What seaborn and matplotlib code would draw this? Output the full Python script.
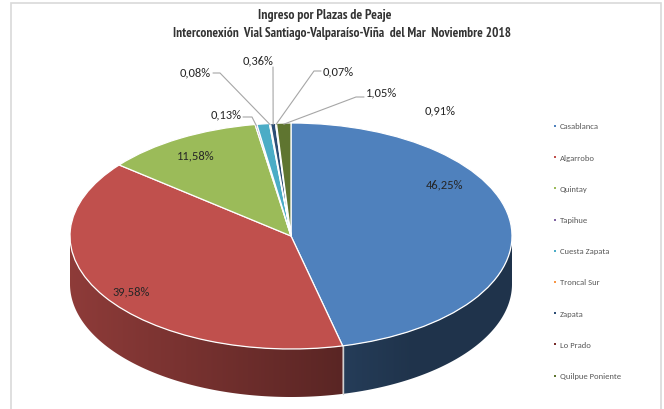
import numpy as np
import matplotlib
matplotlib.use('Agg')
import matplotlib.pyplot as plt
from matplotlib import font_manager
from matplotlib.patches import Rectangle, Polygon
import seaborn as sns

# --- data ---
title_lines = ['Ingreso por Plazas de Peaje',
               'Interconexión  Vial Santiago-Valparaíso-Viña  del Mar  Noviembre 2018']
plazas = ['Casablanca', 'Algarrobo', 'Quintay', 'Tapihue', 'Cuesta Zapata',
          'Troncal Sur', 'Zapata', 'Lo Prado', 'Quilpue Poniente']
shares = [46.25, 39.58, 11.58, 0.13, 0.91, 0.08, 0.36, 0.07, 1.05]
slice_colors = ['#4F81BD', '#C0504D', '#9BBB59', '#8064A2', '#4BACC6',
                '#F79646', '#2C4D75', '#772C2A', '#5F7530']

# label positions (pixels) and leader elbows, in the same order as plazas
label_xy = [(445, 185), (131, 292), (196, 156), (226, 115), (440, 111),
            (195, 73), (258, 61), (338, 72), (382, 93)]
leaders = {3: [(243, 118), (252, 118)],
           5: [(213, 74), (220, 74)],
           6: [(273, 68)],
           7: [(321, 72), (314, 72)],
           8: [(364, 98), (356, 98)]}


def first_font(candidates):
    have = {f.name for f in font_manager.fontManager.ttflist}
    for c in candidates:
        if c in have:
            return c
    return 'DejaVu Sans'


sns.set_theme(style='white')
palette = sns.color_palette(slice_colors)
body_font = first_font(['Carlito', 'Lato'])
plt.rcParams['font.family'] = [body_font, 'DejaVu Sans']
title_font = [first_font(['Liberation Sans Narrow', 'Arial Narrow', 'PT Sans Narrow',
                          'Roboto Condensed', 'Archivo Narrow']), 'DejaVu Sans']

# pie geometry in pixels: centre, radii, thickness of the 3D side
CX, CY, RX, RY = 291, 237, 221, 113
DEPTH = 48 / RY


def px(x, y):
    # pixel position -> data coordinates of the pie axes
    return (x - CX) / RX, (CY - y) / RY


def side_shade(x):
    # lighting of the side wall: lighter on the left, darker on the right
    return np.maximum(0.40, 0.74 - 0.22 * (x + 1))


fig = plt.figure(figsize=(6.64, 4.10), dpi=100)
ax = fig.add_axes([0, 0, 1, 1])

# top face of the pie
wedges, _ = ax.pie(shares, colors=palette, startangle=90, counterclock=False,
                   radius=1, center=(0, 0),
                   wedgeprops=dict(edgecolor='white', linewidth=0.9, zorder=3))

# slice boundaries in degrees (math convention)
frac = np.cumsum([0] + shares) / sum(shares)
theta = 90 - 360 * frac

# side wall for the front half: gradient image clipped to each slice's band
for i, col in enumerate(palette):
    hi = min(theta[i], 0)
    lo = max(theta[i + 1], -180)
    if hi <= lo:
        continue
    ang = np.radians(np.linspace(lo, hi, 200))
    top = np.column_stack([np.cos(ang), np.sin(ang)])
    bot = np.column_stack([np.cos(ang), np.sin(ang) - DEPTH])[::-1]
    band = Polygon(np.vstack([top, bot]), closed=True, fc='none', ec='none')
    ax.add_patch(band)
    x0, x1 = top[:, 0].min(), top[:, 0].max()
    y0, y1 = bot[:, 1].min(), top[:, 1].max()
    xs = np.linspace(x0, x1, 300)
    img = np.array(col)[None, None, :] * side_shade(xs)[None, :, None]
    im = ax.imshow(img, extent=(x0, x1, y0, y1), aspect='auto',
                   interpolation='bilinear', zorder=1, origin='lower')
    im.set_clip_path(band)

# light seam on the side between the first two slices
rb = np.radians(theta[1])
ax.plot([np.cos(rb), np.cos(rb)], [np.sin(rb), np.sin(rb) - DEPTH],
        color='#D0D0D0', lw=1.0, zorder=2)

# data labels
for i, v in enumerate(shares):
    txt = f'{v:.2f}%'.replace('.', ',')
    ax.text(*px(*label_xy[i]), txt, ha='center', va='center',
            fontsize=9, color='#262626', zorder=5)

# leader lines to the small slices
for i, pts in leaders.items():
    mid = np.radians((theta[i] + theta[i + 1]) / 2)
    xs = [px(*p)[0] for p in pts] + [np.cos(mid) * 0.99]
    ys = [px(*p)[1] for p in pts] + [np.sin(mid) * 0.99]
    ax.plot(xs, ys, color='#A6A6A6', lw=0.8, zorder=4)

# legend on the right
for i, name in enumerate(plazas):
    y = 127 + 31.2 * i
    ax.scatter(*px(555, y), marker='s', s=4, color=palette[i], zorder=5,
               linewidths=0)
    ax.text(*px(560, y), name, ha='left', va='center', fontsize=6.2,
            color='#595959', zorder=5)

ax.set_xlim(-CX / RX, (664 - CX) / RX)
ax.set_ylim((CY - 410) / RY, CY / RY)
ax.set_aspect('auto')
ax.axis('off')

# title
fig.text(325 / 664, 1 - 16 / 410, title_lines[0], ha='center', va='center',
         fontsize=9.8, fontweight='bold', color='#333333', family=title_font)
fig.text(342 / 664, 1 - 33 / 410, title_lines[1], ha='center', va='center',
         fontsize=9.5, fontweight='bold', color='#333333', family=title_font)

# chart area border
fig.add_artist(Rectangle((11 / 664, -0.05), 650 / 664, 1 - 4 / 410 + 0.05,
                         fill=False, edgecolor='#D9D9D9', lw=1.2,
                         transform=fig.transFigure))

fig.savefig('out.png', dpi=100)
plt.close(fig)
